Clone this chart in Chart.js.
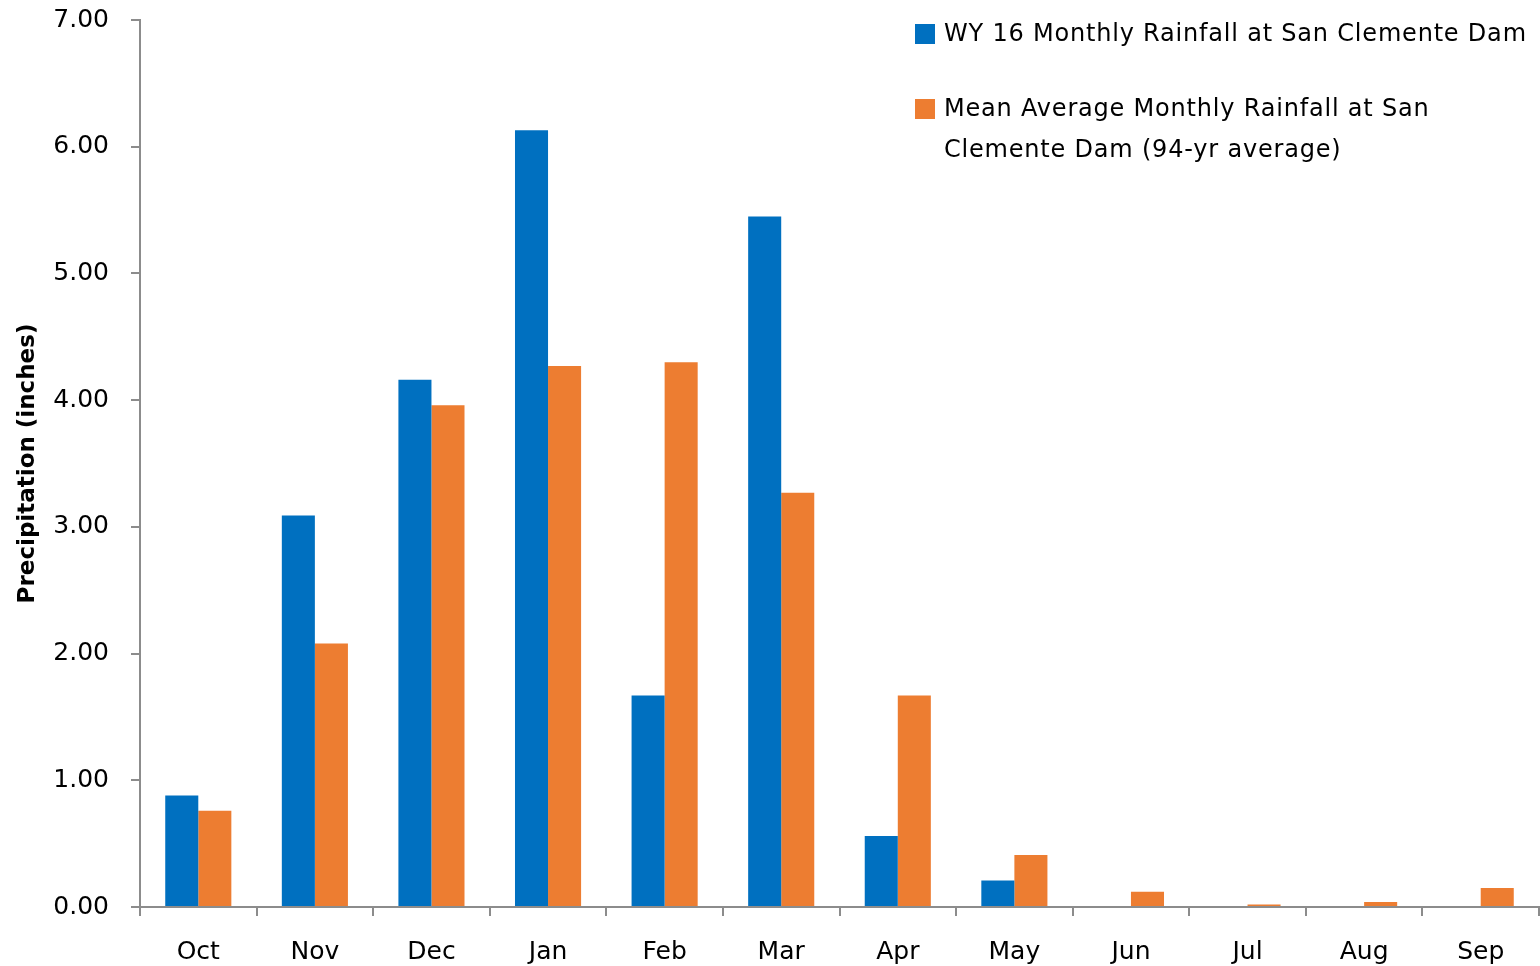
<!DOCTYPE html>
<html>
<head>
<meta charset="utf-8">
<script src="https://cdn.jsdelivr.net/npm/chart.js@4"></script>
<style>
  html, body { margin: 0; padding: 0; background: #fff; }
  #wrap { position: relative; width: 1540px; height: 966px; }
  #legend { position: absolute; left: 915px; top: 13px; font-family: "DejaVu Sans", sans-serif; font-size: 24px; color: #000; letter-spacing: 0.8px; }
  .item { position: relative; padding-left: 29px; line-height: 41px; white-space: nowrap; }
  .sw { position: absolute; left: 0; top: 11px; width: 20px; height: 20px; }
</style>
</head>
<body>
<div id="wrap">
  <canvas id="rainChart" width="1540" height="966"></canvas>
  <div id="legend"></div>
</div>
<script>
const months = ['Oct', 'Nov', 'Dec', 'Jan', 'Feb', 'Mar', 'Apr', 'May', 'Jun', 'Jul', 'Aug', 'Sep'];
const wy16Rain = [0.88, 3.09, 4.16, 6.13, 1.67, 5.45, 0.56, 0.21, 0, 0, 0, 0];
const meanRain = [0.76, 2.08, 3.96, 4.27, 4.30, 3.27, 1.67, 0.41, 0.12, 0.02, 0.04, 0.15];
const seriesNames = ['WY 16 Monthly Rainfall at San Clemente Dam', 'Mean Average Monthly Rainfall at San\nClemente Dam (94-yr average)'];
const seriesColors = ['#0070C0', '#ED7D31'];
const yTicks = [0, 1, 2, 3, 4, 5, 6, 7];

window.addEventListener('DOMContentLoaded', () => {
  const ctx = document.getElementById('rainChart');
  const font = { family: 'DejaVu Sans', size: 25 };
  const axisGray = '#8c8c8c';

  new Chart(ctx, {
    type: 'bar',
    data: {
      labels: months,
      datasets: [
        { label: seriesNames[0], data: wy16Rain, backgroundColor: seriesColors[0] },
        { label: seriesNames[1], data: meanRain, backgroundColor: seriesColors[1] }
      ]
    },
    options: {
      responsive: false,
      animation: false,
      layout: { padding: { top: 20, right: 1, left: 0, bottom: 0 } },
      datasets: { bar: { categoryPercentage: 0.567, barPercentage: 1.0 } },
      plugins: { legend: { display: false }, tooltip: { enabled: false } },
      scales: {
        x: {
          offset: true,
          grid: { offset: true, drawOnChartArea: false, tickLength: 9, color: axisGray, lineWidth: 2 },
          border: { color: axisGray, width: 2 },
          ticks: { color: '#000', font: font, padding: 21 },
          afterFit: (s) => { s.height = 59; }
        },
        y: {
          min: 0,
          max: 7,
          afterBuildTicks: (s) => { s.ticks = yTicks.map(v => ({ value: v })); },
          grid: { drawOnChartArea: false, tickLength: 9, color: axisGray, lineWidth: 2 },
          border: { color: axisGray, width: 2 },
          ticks: { color: '#000', font: font, padding: 22, callback: v => v.toFixed(2) },
          title: { display: true, text: 'Precipitation (inches)', color: '#000', font: { family: 'DejaVu Sans', size: 23, weight: 'bold' }, padding: { top: 14, bottom: 0 } },
          afterFit: (s) => { s.width = 140; s.paddingTop = 0; s.paddingBottom = 0; }
        }
      }
    }
  });

  const legend = document.getElementById('legend');
  seriesNames.forEach((name, i) => {
    const item = document.createElement('div');
    item.className = 'item';
    item.style.marginBottom = i === 0 ? '34px' : '0';
    const sw = document.createElement('span');
    sw.className = 'sw';
    sw.style.background = seriesColors[i];
    item.appendChild(sw);
    name.split('\n').forEach((line, j) => {
      if (j > 0) item.appendChild(document.createElement('br'));
      item.appendChild(document.createTextNode(line));
    });
    legend.appendChild(item);
  });
});
</script>
</body>
</html>
